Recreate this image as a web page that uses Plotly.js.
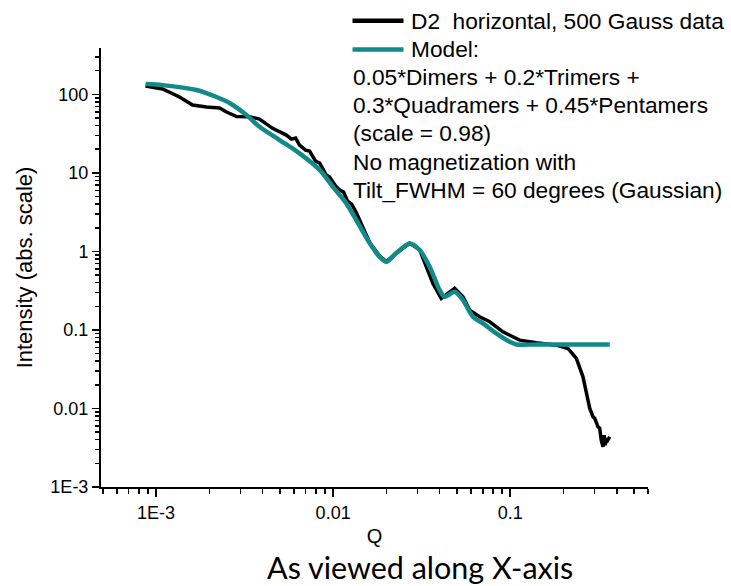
<!DOCTYPE html>
<html>
<head>
<meta charset="utf-8">
<script src="https://cdn.plot.ly/plotly-3.0.1.min.js"></script>
<style>
  html, body { margin: 0; padding: 0; background: #ffffff; }
  #chart { width: 731px; height: 586px; }
</style>
</head>
<body>
<div id="chart"></div>
<script>
// ---- Data ----
const qData = [8.72e-4, 1.088e-3, 1.357e-3, 1.607e-3, 1.928e-3, 2.283e-3, 2.50e-3, 2.847e-3, 3.37e-3, 3.84e-3,
  4.55e-3, 5.44e-3, 5.82e-3, 6.14e-3, 6.46e-3, 6.99e-3, 7.36e-3, 7.96e-3, 8.39e-3, 9.15e-3,
  9.55e-3, 0.01032, 0.01088, 0.01146, 0.01207, 0.01272, 0.01351, 0.01448, 0.01607, 0.0183,
  0.01997, 0.02274, 0.02704, 0.0308, 0.0336, 0.0366, 0.0408, 0.04856, 0.0541, 0.059,
  0.0672, 0.0766, 0.091, 0.1131, 0.1406, 0.1823, 0.2118, 0.2364, 0.2576, 0.2669,
  0.275, 0.2812, 0.2935, 0.2999, 0.3133, 0.3201, 0.3267, 0.3342, 0.3395, 0.344,
  0.349, 0.3553, 0.365];
const iData = [127.6, 116.8, 92.4, 73.1, 68.9, 66.9, 59.5, 52.2, 52.0, 48.5,
  36.9, 30.3, 26.9, 27.7, 22.6, 19.5, 18.95, 14.1, 13.3, 9.38,
  8.84, 6.79, 6.04, 5.69, 4.37, 4.0, 3.12, 2.16, 1.30, 0.87,
  0.74, 0.95, 1.27, 1.05, 0.637, 0.391, 0.252, 0.338, 0.264, 0.179,
  0.147, 0.127, 0.0946, 0.0741, 0.0685, 0.064, 0.0581, 0.0434, 0.0253, 0.0171,
  0.01276, 0.0101, 0.00782, 0.00752, 0.00583, 0.00561, 0.00394, 0.00324, 0.00457, 0.00341,
  0.00415, 0.00394, 0.00435];

const qModel = [8.72e-4, 1.088e-3, 1.692e-3, 2.195e-3, 2.60e-3, 3.24e-3, 3.84e-3, 4.98e-3, 6.46e-3, 8.39e-3,
  9.97e-3, 0.01187, 0.01351, 0.01607, 0.0183, 0.01997, 0.02274, 0.02704, 0.0308, 0.03508,
  0.03995, 0.04263, 0.04856, 0.0541, 0.0616, 0.0702, 0.0835, 0.0993, 0.1083, 0.1406,
  0.2168, 0.365];
const iModel = [135, 131, 113.4, 92.4, 77.5, 54.5, 38.7, 26.2, 17.7, 10.9,
  6.65, 4.09, 2.51, 1.276, 0.853, 0.737, 0.951, 1.265, 1.04, 0.637,
  0.321, 0.264, 0.306, 0.240, 0.147, 0.121, 0.0902, 0.0705, 0.0653, 0.0653,
  0.0653, 0.0653];

const xTickVals = [0.001, 0.01, 0.1];
const xTickText = ['1E-3', '0.01', '0.1'];
const yTickVals = [0.001, 0.01, 0.1, 1, 10, 100];
const yTickText = ['1E-3', '0.01', '0.1', '1', '10', '100'];

const seriesNames = ['D2  horizontal, 500 Gauss data', 'Model:'];
const legendExtraLines = [
  '0.05*Dimers + 0.2*Trimers +',
  '0.3*Quadramers + 0.45*Pentamers',
  '(scale = 0.98)',
  'No magnetization with',
  'Tilt_FWHM = 60 degrees (Gaussian)'
];
const xTitle = 'Q';
const yTitle = 'Intensity (abs. scale)';
const caption = 'As viewed along X-axis';

// ---- Styling ----
const BLACK = '#000000';
const TEAL = '#138a8a';
const FONT = 'Arial, "Liberation Sans", sans-serif';

function minorTicks(fromExp, toExp) {
  const out = [];
  for (let e = fromExp; e <= toExp; e++) {
    for (let m = 2; m <= 9; m++) out.push(m * Math.pow(10, e));
  }
  return out;
}

const traces = [
  {
    x: qData, y: iData, type: 'scatter', mode: 'lines', name: seriesNames[0],
    line: { color: BLACK, width: 3.5 }, showlegend: false
  },
  {
    x: qModel, y: iModel, type: 'scatter', mode: 'lines', name: seriesNames[1],
    line: { color: TEAL, width: 4.5, shape: 'spline', smoothing: 0.8 }, showlegend: false
  }
];

// Legend drawn as annotations + line samples (paper coordinates)
const legendTextY = [1.0622, 0.9966];
const extraY = [0.9339, 0.8702, 0.8064, 0.7403, 0.6765];
const annotations = [];
seriesNames.forEach((t, i) => {
  annotations.push({
    xref: 'paper', yref: 'paper', x: 0.563, y: legendTextY[i],
    xanchor: 'left', yanchor: 'middle', text: t, showarrow: false,
    font: { family: FONT, size: 22.7, color: BLACK }
  });
});
legendExtraLines.forEach((t, i) => {
  annotations.push({
    xref: 'paper', yref: 'paper', x: 0.457, y: extraY[i],
    xanchor: 'left', yanchor: 'middle', text: t, showarrow: false,
    font: { family: FONT, size: 22.7, color: BLACK }
  });
});
annotations.push({
  xref: 'paper', yref: 'paper', x: 0.584, y: -0.1827,
  xanchor: 'center', yanchor: 'middle', text: caption, showarrow: false,
  font: { family: 'Lato, "Open Sans", sans-serif', size: 30.5, color: BLACK }
});

const shapes = [
  { type: 'line', xref: 'paper', yref: 'paper', x0: 0.4598, x1: 0.5530, y0: legendTextY[0], y1: legendTextY[0],
    line: { color: BLACK, width: 4.5 } },
  { type: 'line', xref: 'paper', yref: 'paper', x0: 0.4598, x1: 0.5530, y0: legendTextY[1], y1: legendTextY[1],
    line: { color: TEAL, width: 4.5 } }
];

const layout = {
  width: 731, height: 586,
  margin: { l: 101, r: 83, t: 48, b: 99 },
  paper_bgcolor: '#ffffff', plot_bgcolor: '#ffffff',
  showlegend: false,
  font: { family: FONT, color: BLACK },
  xaxis: {
    type: 'log', range: [-3.311, -0.2218],
    showline: true, linecolor: BLACK, linewidth: 2, mirror: false,
    showgrid: false, zeroline: false,
    ticks: 'outside', ticklen: 8, tickwidth: 1.5, tickcolor: BLACK,
    tickmode: 'array', tickvals: xTickVals, ticktext: xTickText,
    tickfont: { family: FONT, size: 18, color: BLACK },
    minor: { ticks: 'outside', ticklen: 5, tickwidth: 1.5, tickcolor: BLACK,
             tickmode: 'array', tickvals: minorTicks(-4, -1), showgrid: false },
    title: { text: xTitle, font: { family: FONT, size: 20, color: BLACK }, standoff: 7 }
  },
  yaxis: {
    type: 'log', range: [-3, 2.59],
    showline: true, linecolor: BLACK, linewidth: 2, mirror: false,
    showgrid: false, zeroline: false,
    ticks: 'outside', ticklen: 7, tickwidth: 1.5, tickcolor: BLACK,
    tickmode: 'array', tickvals: yTickVals, ticktext: yTickText,
    tickfont: { family: FONT, size: 18, color: BLACK },
    minor: { ticks: 'outside', ticklen: 4, tickwidth: 1.5, tickcolor: BLACK,
             tickmode: 'array', tickvals: minorTicks(-3, 2), showgrid: false },
    title: { text: yTitle, font: { family: FONT, size: 22, color: BLACK }, standoff: 12 }
  },
  annotations: annotations,
  shapes: shapes
};

Plotly.newPlot('chart', traces, layout, { displayModeBar: false, staticPlot: true });
</script>
</body>
</html>
